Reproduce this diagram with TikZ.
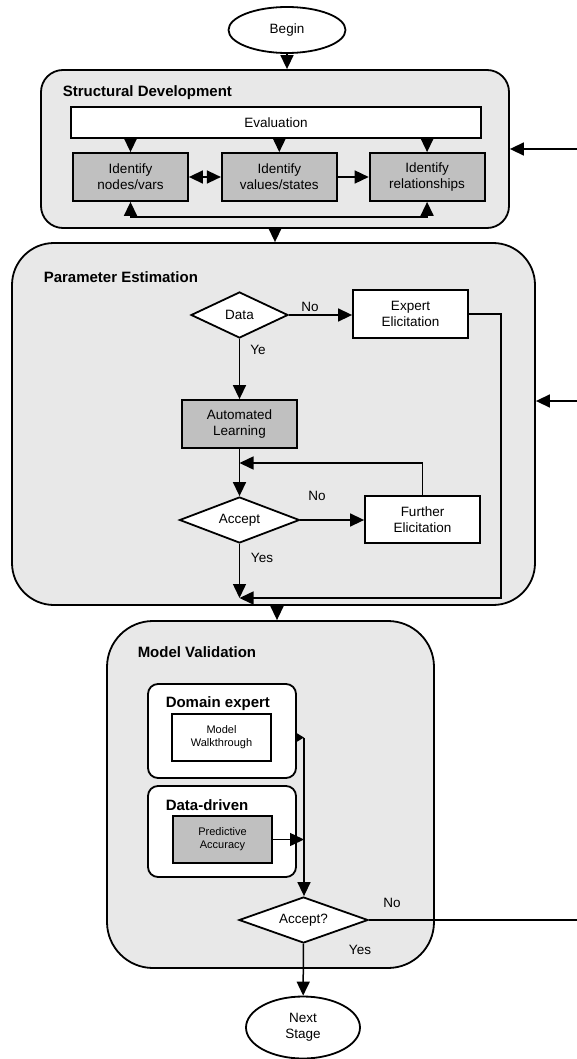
\documentclass[tikz,border=0pt]{standalone}
\usepackage{fontspec}
\setmainfont{Liberation Sans}
\usetikzlibrary{arrows.meta, positioning, shapes.geometric, calc}
\definecolor{cpanel}{HTML}{E8E8E8}
\definecolor{cshade}{HTML}{C0C0C0}
\tikzset{
  every picture/.style={line width=1.5pt},
  txt/.style={font=\fontsize{13.5pt}{16pt}\selectfont},
  panel/.style={draw, fill=cpanel, line width=1.8pt, rounded corners=#1},
  subpanel/.style={draw, fill=white, line width=1.8pt, rounded corners=10pt},
  box/.style={draw, fill=#1, line width=1.8pt, align=center, inner sep=2pt, txt},
  box/.default=white,
  idbox/.style={box=cshade, minimum width=115pt, minimum height=48pt},
  smallbox/.style={box=#1, minimum width=99pt, minimum height=47pt, font=\fontsize{11pt}{13pt}\selectfont},
  smallbox/.default=white,
  decision/.style={diamond, draw, fill=white, line width=1.8pt, inner sep=0pt, aspect=2.5, txt},
  terminal/.style={ellipse, draw, fill=white, line width=1.8pt, inner sep=0pt, align=center, txt},
  title/.style={font=\fontsize{15pt}{18pt}\selectfont\bfseries, inner sep=0pt},
  lbl/.style={txt, inner sep=0pt},
  arrow/.style={-{Triangle[length=14pt, width=13pt]}},
  twoway/.style={{Triangle[length=14pt, width=13pt]}-{Triangle[length=14pt, width=13pt]}},
  tinyarrow/.style={-{Triangle[length=7pt, width=8pt]}},
}

\begin{document}
\begin{tikzpicture}[x=1pt, y=-1pt]
  \useasboundingbox (0,0) rectangle (577,1059);
  \node[terminal, minimum width=117pt, minimum height=46pt] (begin) at (287,30) {Begin};
  % structural development
  \node[panel=22pt, minimum width=468pt, minimum height=158pt] (sd) at (275,149) {};
  \draw[arrow] (begin) -- (begin |- sd.north);
  \node[title, anchor=west] (sdtitle) at (62,93) {Structural Development};
  \node[box, minimum width=410pt, minimum height=31pt] (eval) at (276,122.5) {Evaluation};
  \node[idbox] (nodes) at (130.5,177) {Identify\\nodes/vars};
  \node[idbox, right=32pt of nodes] (values) {Identify\\values/states};
  \node[idbox, right=31pt of values] (rels) {Identify\\relationships};
  \foreach \b in {nodes,values,rels}
    \draw[arrow] (eval.south -| \b) -- (\b.north);
  \draw[twoway] (nodes) -- (values);
  \draw[arrow] (values) -- (rels);
  \draw[twoway] (nodes.south) -- ++(0,15) -| (rels.south);
  \coordinate (feedsd) at (577,149);
  \draw[arrow] (feedsd) -- (sd.east);
  % parameter estimation
  \node[panel=42pt, minimum width=523pt, minimum height=362pt] (pe) at (273.5,424) {};
  \draw[arrow] (sd.south) -- (sd.south |- pe.north);
  \node[title, anchor=west] (petitle) at (43,277) {Parameter Estimation};
  \node[decision, minimum width=97pt, minimum height=46pt] (data) at (239.5,315) {Data};
  \node[box, minimum width=115pt, minimum height=48pt] (expert) at (410.5,314) {Expert\\Elicitation};
  \node[box=cshade, minimum width=115pt, minimum height=48pt] (auto) at (239.5,424) {Automated\\Learning};
  \node[decision, minimum width=120pt, minimum height=46pt] (accept) at (239.5,520) {Accept};
  \node[box, minimum width=115pt, minimum height=47pt] (further) at (422.5,519.5) {Further\\Elicitation};
  \coordinate (loopin) at (239.5,463);
  \coordinate (merge) at (239.5,598);
  \coordinate (feedpe) at (577,401);
  \draw[arrow] (data.east) -- (data.east -| expert.west);
  \node[lbl] (no1) at (310,307) {No};
  \draw[arrow] (data) -- (auto);
  \node[lbl] (ye) at (258,350) {Ye};
  \draw[arrow] (auto) -- (accept);
  \draw[arrow] (further.north) |- (loopin);
  \draw[arrow] (accept.east) -- (accept.east -| further.west);
  \node[lbl] (no2) at (317,496) {No};
  \draw[arrow] (accept) -- (merge);
  \node[lbl] (yes1) at (262,558) {Yes};
  \draw[arrow] (expert.east) -- ++(32,0) |- (merge);
  \draw[arrow] (feedpe) -- (feedpe -| pe.east);
  % model validation
  \node[panel=46pt, minimum width=327pt, minimum height=347pt] (mv) at (270.5,794.5) {};
  \draw[arrow] ([xshift=3.5pt]pe.south) -- ([xshift=3.5pt]pe.south |- mv.north);
  \node[title, anchor=west] (mvtitle) at (137,652) {Model Validation};
  \node[subpanel, minimum width=148pt, minimum height=94pt] (domain) at (222,731) {};
  \node[title, anchor=west] (domtitle) at (165,704) {Domain expert};
  \node[smallbox] (walk) at (221.5,737.5) {Model\\Walkthrough};
  \node[subpanel, minimum width=148pt, minimum height=91pt] (driven) at (222,831.5) {};
  \node[title, anchor=west] (drvtitle) at (165,805) {Data-driven};
  \node[smallbox=cshade] (pred) at (222.5,839.5) {Predictive\\Accuracy};
  \node[decision, minimum width=129pt, minimum height=46pt] (final) at (303.5,920) {Accept?};
  \node[terminal, minimum width=114pt, minimum height=62pt] (next) at (303,1027.5) {Next\\Stage};
  \coordinate (join) at (304,737.5);
  \coordinate (out) at (577,920);
  \draw[tinyarrow] (domain.east |- walk) -- (join);
  \draw[arrow] (join) -- (join |- final.north);
  \draw[arrow] (pred.east) -- (pred.east -| join);
  \draw (final.east) -- (out);
  \node[lbl] (no3) at (392,903) {No};
  \draw[arrow] (final) -- (next);
  \node[lbl] (yes2) at (360,950) {Yes};
\end{tikzpicture}
\end{document}
